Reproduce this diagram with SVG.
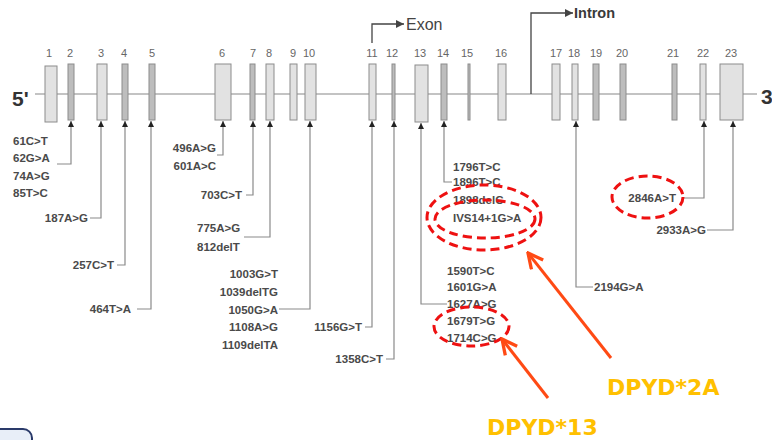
<svg xmlns="http://www.w3.org/2000/svg" width="772" height="440" viewBox="0 0 772 440">
<defs>
<style>
.ex{fill:#e2e2e2;stroke:#8c8c8c;stroke-width:1}
.exd{fill:#bdbdbd;stroke:#8c8c8c;stroke-width:1}
.num{font-family:"Liberation Sans",Arial,sans-serif;font-size:11px;fill:#666;text-anchor:middle}
.lab{font-family:"Liberation Sans",Arial,sans-serif;font-size:11.5px;font-weight:bold;fill:#4a4a4a}
.e{text-anchor:end}
.con{fill:none;stroke:#8a8a8a;stroke-width:1.2;marker-start:url(#up)}
.red{fill:none;stroke:#ee1111;stroke-width:3;stroke-dasharray:9 5}
.oar{stroke:#ff4a14;stroke-width:3;fill:none;marker-end:url(#oa)}
.dp{font-family:"DejaVu Sans",Verdana,sans-serif;font-size:22px;font-weight:bold;fill:#ffc000}
</style>
<marker id="up" viewBox="0 0 10 10" refX="10" refY="5" markerWidth="6" markerHeight="6" markerUnits="userSpaceOnUse" orient="auto-start-reverse">
<path d="M0,0 L10,5 L0,10 Z" fill="#222"/>
</marker>
<marker id="oa" viewBox="0 0 12 12" refX="11" refY="6" markerWidth="18" markerHeight="18" markerUnits="userSpaceOnUse" orient="auto">
<path d="M1,1 L11,6 L1,11" fill="none" stroke="#ff4a14" stroke-width="2.2"/>
</marker>
<marker id="ta" viewBox="0 0 10 10" refX="10" refY="5" markerWidth="8" markerHeight="8" markerUnits="userSpaceOnUse" orient="auto">
<path d="M0,0 L10,5 L0,10 Z" fill="#444"/>
</marker>
</defs>
<rect width="772" height="440" fill="#fff"/>

<g id="gene">
<line x1="35" y1="94" x2="757" y2="94" stroke="#888" stroke-width="1.2"/>
<text x="12" y="106" font-family="Liberation Sans,Arial,sans-serif" font-size="21" font-weight="bold" fill="#333">5'</text>
<text x="761" y="104" font-family="Liberation Sans,Arial,sans-serif" font-size="21" font-weight="bold" fill="#333">3</text>
</g>

<g id="exons">
<g id="exon1"><rect class="ex" x="45" y="66" width="12" height="56"/><text class="num" x="49" y="57">1</text></g>
<g id="exon2"><rect class="exd" x="68" y="64" width="6" height="56"/><text class="num" x="70" y="57">2</text></g>
<g id="exon3"><rect class="ex" x="97" y="64" width="10" height="56"/><text class="num" x="101" y="57">3</text></g>
<g id="exon4"><rect class="exd" x="122" y="64" width="6" height="56"/><text class="num" x="124" y="57">4</text></g>
<g id="exon5"><rect class="exd" x="149" y="64" width="6" height="56"/><text class="num" x="152" y="57">5</text></g>
<g id="exon6"><rect class="ex" x="215" y="64" width="16" height="56"/><text class="num" x="222" y="57">6</text></g>
<g id="exon7"><rect class="exd" x="250" y="64" width="5" height="56"/><text class="num" x="253" y="57">7</text></g>
<g id="exon8"><rect class="ex" x="266" y="64" width="8" height="56"/><text class="num" x="269" y="57">8</text></g>
<g id="exon9"><rect class="ex" x="290" y="64" width="7" height="56"/><text class="num" x="293" y="57">9</text></g>
<g id="exon10"><rect class="ex" x="305" y="64" width="11" height="56"/><text class="num" x="309" y="57">10</text></g>
<g id="exon11"><rect class="ex" x="369" y="64" width="7" height="56"/><text class="num" x="372" y="57">11</text></g>
<g id="exon12"><rect class="exd" x="392" y="64" width="3" height="56"/><text class="num" x="392" y="57">12</text></g>
<g id="exon13"><rect class="ex" x="415" y="65" width="13" height="57"/><text class="num" x="420" y="57">13</text></g>
<g id="exon14"><rect class="exd" x="441" y="64" width="6" height="56"/><text class="num" x="443" y="57">14</text></g>
<g id="exon15"><rect class="exd" x="468" y="64" width="2" height="56"/><text class="num" x="467" y="57">15</text></g>
<g id="exon16"><rect class="ex" x="498" y="64" width="8" height="56"/><text class="num" x="501" y="57">16</text></g>
<g id="exon17"><rect class="ex" x="552" y="64" width="8" height="56"/><text class="num" x="556" y="57">17</text></g>
<g id="exon18"><rect class="ex" x="572" y="64" width="6" height="56"/><text class="num" x="574" y="57">18</text></g>
<g id="exon19"><rect class="exd" x="593" y="64" width="6" height="56"/><text class="num" x="596" y="57">19</text></g>
<g id="exon20"><rect class="exd" x="620" y="64" width="6" height="56"/><text class="num" x="622" y="57">20</text></g>
<g id="exon21"><rect class="exd" x="672" y="64" width="5" height="56"/><text class="num" x="673" y="57">21</text></g>
<g id="exon22"><rect class="ex" x="700" y="64" width="6" height="56"/><text class="num" x="703" y="57">22</text></g>
<g id="exon23"><rect class="ex" x="720" y="64" width="23" height="56"/><text class="num" x="731" y="57">23</text></g>
</g>

<g id="legend">
<g id="exon-label">
<path d="M372,43 V24 H404" fill="none" stroke="#444" stroke-width="1.3" marker-end="url(#ta)"/>
<text x="406" y="29.5" font-family="Liberation Sans,Arial,sans-serif" font-size="16" fill="#444">Exon</text>
</g>
<g id="intron-label">
<path d="M531,94 V13 H573" fill="none" stroke="#444" stroke-width="1.3" marker-end="url(#ta)"/>
<text x="574" y="18" font-family="Liberation Sans,Arial,sans-serif" font-size="14.5" font-weight="bold" fill="#3a3a3a">Intron</text>
</g>
</g>

<g id="connectors">
<path class="con" d="M71,121 V164 H57"/>
<path class="con" d="M101,121 V218 H90"/>
<path class="con" d="M125,121 V265 H117"/>
<path class="con" d="M151,121 V309 H137"/>
<path class="con" d="M223,121 V155 H217"/>
<path class="con" d="M253,121 V195 H246"/>
<path class="con" d="M270,121 V237 H244"/>
<path class="con" d="M310,121 V309 H279"/>
<path class="con" d="M372,121 V327 H365"/>
<path class="con" d="M394,121 V359 H386"/>
<path class="con" d="M421,123 V304 H447"/>
<path class="con" d="M444,121 V182 H452"/>
<path class="con" d="M576,121 V287 H593"/>
<path class="con" d="M704,121 V198 H683"/>
<path class="con" d="M733,121 V230 H707"/>
</g>

<g id="mutations">
<text class="lab" x="13" y="145">61C&gt;T</text>
<text class="lab" x="13" y="162">62G&gt;A</text>
<text class="lab" x="13" y="180">74A&gt;G</text>
<text class="lab" x="13" y="197">85T&gt;C</text>
<text class="lab e" x="88" y="222">187A&gt;G</text>
<text class="lab e" x="114" y="269">257C&gt;T</text>
<text class="lab e" x="131" y="313">464T&gt;A</text>
<text class="lab e" x="216" y="152">496A&gt;G</text>
<text class="lab e" x="216" y="170">601A&gt;C</text>
<text class="lab e" x="242" y="199">703C&gt;T</text>
<text class="lab" x="197" y="232">775A&gt;G</text>
<text class="lab" x="197" y="251">812delT</text>
<text class="lab e" x="278" y="278">1003G&gt;T</text>
<text class="lab e" x="278" y="296">1039delTG</text>
<text class="lab e" x="278" y="314">1050G&gt;A</text>
<text class="lab e" x="278" y="331">1108A&gt;G</text>
<text class="lab e" x="278" y="349">1109delTA</text>
<text class="lab e" x="362" y="331">1156G&gt;T</text>
<text class="lab e" x="383" y="363">1358C&gt;T</text>
<text class="lab" x="447" y="275">1590T&gt;C</text>
<text class="lab" x="447" y="291">1601G&gt;A</text>
<text class="lab" x="447" y="308">1627A&gt;G</text>
<text class="lab" x="447" y="325">1679T&gt;G</text>
<text class="lab" x="447" y="342">1714C&gt;G</text>
<text class="lab" x="453" y="171">1796T&gt;C</text>
<text class="lab" x="453" y="186">1896T&gt;C</text>
<text class="lab" x="453" y="204">1898delC</text>
<text class="lab" x="453" y="222">IVS14+1G&gt;A</text>
<text class="lab" x="594" y="291">2194G&gt;A</text>
<text class="lab e" x="676" y="202">2846A&gt;T</text>
<text class="lab e" x="706" y="234">2933A&gt;G</text>
</g>

<g id="highlights">
<ellipse class="red" cx="484" cy="217.5" rx="57" ry="32.5"/>
<ellipse class="red" cx="485" cy="219" rx="50" ry="19"/>
<ellipse class="red" cx="471.5" cy="326.5" rx="37.5" ry="19.5"/>
<ellipse class="red" cx="647.5" cy="197" rx="35.5" ry="21"/>
</g>

<g id="callouts">
<g id="dpyd2a">
<line class="oar" x1="611" y1="358" x2="528" y2="253"/>
<text class="dp" x="607" y="395">DPYD*2A</text>
</g>
<g id="dpyd13">
<line class="oar" x1="548" y1="398" x2="502" y2="339"/>
<text class="dp" x="487" y="435">DPYD*13</text>
</g>
</g>

<rect x="-12" y="429" width="44" height="30" rx="9" fill="#e8eef8" stroke="#2a3a6a" stroke-width="2"/>
</svg>
